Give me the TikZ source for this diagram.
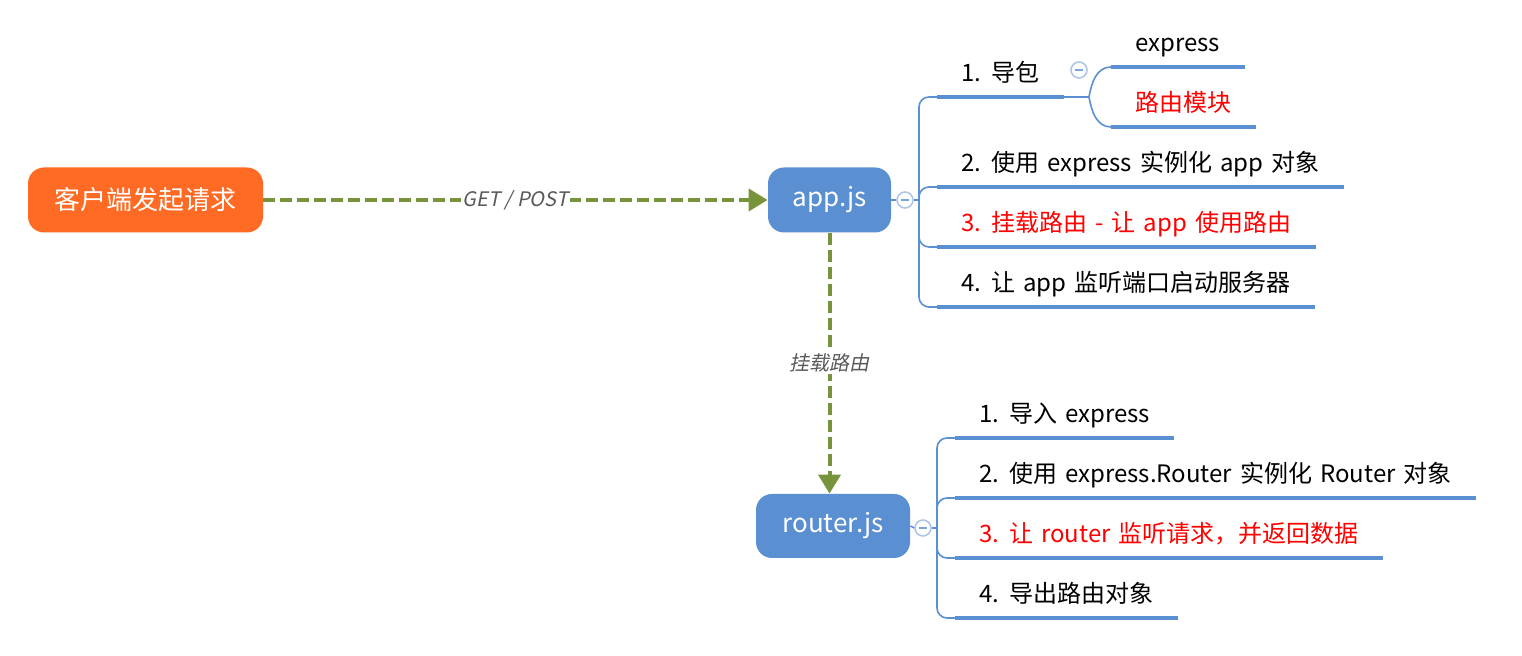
\documentclass[tikz,border=0pt]{standalone}
\usepackage{fontspec}
\setmainfont{Noto Sans CJK SC}[WordSpace=1.5]
\newfontfamily\slantfont{Noto Sans CJK SC}[FakeSlant=0.2]
\usetikzlibrary{arrows.meta}
\definecolor{clientorange}{HTML}{FF6A24}
\definecolor{nodeblue}{HTML}{5A8FD2}
\definecolor{flowgreen}{HTML}{77933C}
\definecolor{labelgray}{HTML}{595959}
\definecolor{foldring}{HTML}{AFC6EA}

\begin{document}
\begin{tikzpicture}[x=0.5pt,y=-0.5pt,
	box/.style={rounded corners=8pt,fill=nodeblue,text=white,font=\fontsize{13}{15}\selectfont,minimum height=32.5pt,inner sep=0pt},
	item/.style={anchor=south west,inner xsep=12pt,inner ysep=4.5pt,text height=9pt,text depth=3pt,font=\fontsize{12}{14}\selectfont},
	uline/.style={nodeblue,line width=2pt},
	branch/.style={nodeblue,line width=0.8pt,rounded corners=5pt},
	flow/.style={flowgreen,line width=2pt,dash pattern=on 6pt off 2.5pt,-{Triangle[length=9.5pt,width=11pt]}},
	flowlabel/.style={fill=white,text=labelgray,font=\slantfont\fontsize{10}{12}\selectfont,inner sep=1pt},
	fold/.style={circle,draw=foldring,fill=white,line width=0.8pt,minimum size=8pt,inner sep=0pt,
		path picture={\draw[nodeblue!80,line width=0.8pt] ([xshift=-2pt]path picture bounding box.center) -- ([xshift=2pt]path picture bounding box.center);}}]
	\useasboundingbox (0,0) rectangle (1522,656);
	\node[box,fill=clientorange,minimum width=117.5pt] (client) at (145.5,200) {客户端发起请求};
	\node[box,minimum width=61.5pt] (app) at (829.5,200) {app.js};
	\node[box,minimum width=77pt,minimum height=32pt] (router) at (833,526) {router.js};
	\draw[flow] (client) -- node[flowlabel] {GET / POST} (app);
	\draw[flow] (app.south) -- node[flowlabel] {挂载路由} (app.south |- router.north);
	\node[fold] (appfold) at (905,200) {};
	\draw[branch] (app.east) -- (appfold.west);
	\node[item] (a1) at (937,97) {1. 导包};
	\node[item] (a2) at (937,187) {2. 使用 express 实例化 app 对象};
	\node[item,text=red] (a3) at (937,247) {3. 挂载路由 - 让 app 使用路由};
	\node[item] (a4) at (937,307) {4. 让 app 监听端口启动服务器};
	\foreach \n in {a1,a2,a3,a4} \draw[uline] (\n.south west) -- (\n.south east);
	\coordinate (aspine) at (919,200);
	\draw[branch] (appfold.east) -- (aspine);
	\draw[branch] (a1.south west) -- (aspine |- a1.south west) -- (aspine |- a4.south west) -- (a4.south west);
	\draw[branch] (a2.south west) -- (aspine |- a2.south west) -- (aspine |- a3.south west) -- (a3.south west);
	\node[item] (b1) at (1111,67) {express};
	\node[item,text=red] (b2) at (1111,127) {路由模块};
	\foreach \n in {b1,b2} \draw[uline] (\n.south west) -- (\n.south east);
	\coordinate (fork) at (1089,97);
	\node[fold] (importfold) at (1079,70) {};
	\draw[branch] (a1.south east) -- (fork);
	\draw[nodeblue,line width=0.8pt] (fork) to[out=80,in=180] (b1.south west);
	\draw[nodeblue,line width=0.8pt] (fork) to[out=-80,in=180] (b2.south west);
	\node[fold] (routerfold) at (923,528) {};
	\draw[branch] (router.east) -- (routerfold.west);
	\node[item] (r1) at (955,438) {1. 导入 express};
	\node[item] (r2) at (955,498) {2. 使用 express.Router 实例化 Router 对象};
	\node[item,text=red] (r3) at (955,558) {3. 让 router 监听请求，并返回数据};
	\node[item] (r4) at (955,618) {4. 导出路由对象};
	\foreach \n in {r1,r2,r3,r4} \draw[uline] (\n.south west) -- (\n.south east);
	\coordinate (rspine) at (937,528);
	\draw[branch] (routerfold.east) -- (rspine);
	\draw[branch] (r1.south west) -- (rspine |- r1.south west) -- (rspine |- r4.south west) -- (r4.south west);
	\draw[branch] (r2.south west) -- (rspine |- r2.south west) -- (rspine |- r3.south west) -- (r3.south west);
\end{tikzpicture}
\end{document}
